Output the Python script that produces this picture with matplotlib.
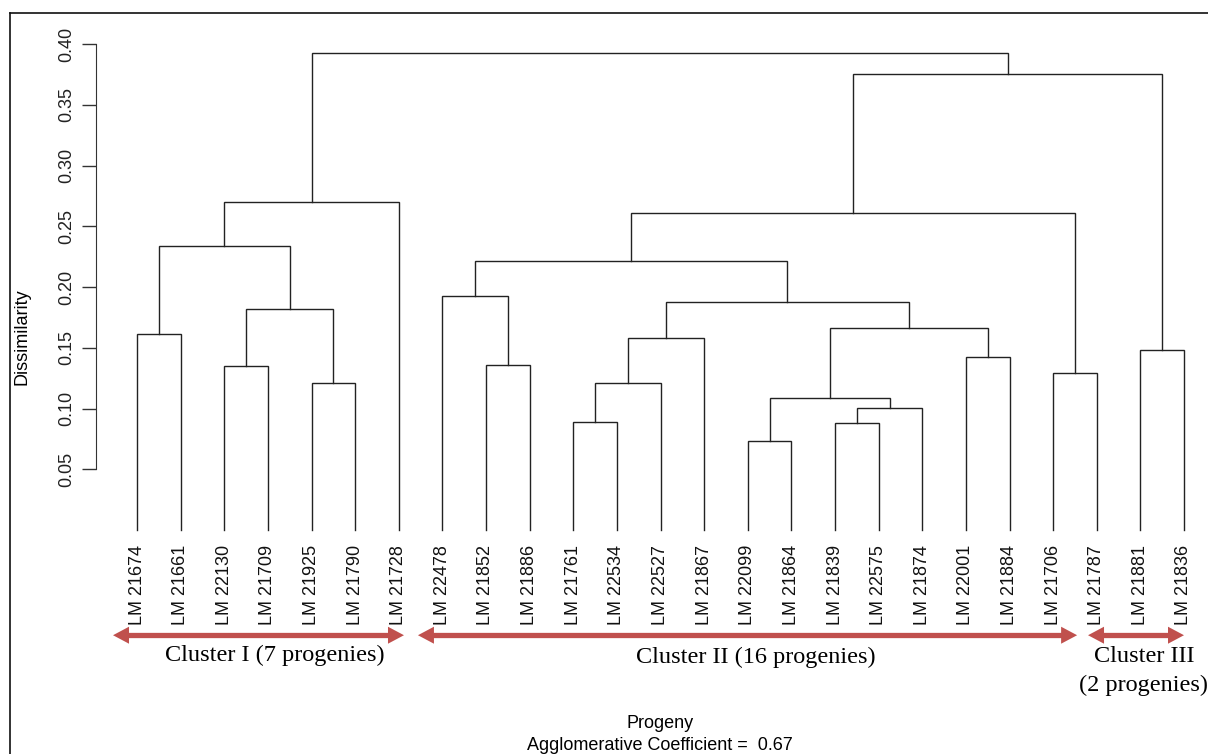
import matplotlib
matplotlib.use('Agg')
import matplotlib.pyplot as plt
from matplotlib.lines import Line2D

leaf_labels = ['LM 21674', 'LM 21661', 'LM 22130', 'LM 21709', 'LM 21925',
               'LM 21790', 'LM 21728', 'LM 22478', 'LM 21852', 'LM 21886',
               'LM 21761', 'LM 22534', 'LM 22527', 'LM 21867', 'LM 22099',
               'LM 21864', 'LM 21839', 'LM 22575', 'LM 21874', 'LM 22001',
               'LM 21884', 'LM 21706', 'LM 21787', 'LM 21881', 'LM 21836']

# R-style merge table: negative = leaf (1-based position), positive = earlier merge row
merge_a = [-15, -17, -11, 2, 1, -5, 3, -22, -3, -9, -20, -24,
           7, -1, 5, 9, 13, -8, 18, 14, 19, 20, 21, 22]
merge_b = [-16, -18, -12, -19, 4, -6, -13, -23, -4, -10, -21, -25,
           -14, -2, 11, 6, 15, 10, 17, 16, 8, -7, 12, 23]
merge_h = [0.073, 0.088, 0.089, 0.1005, 0.109, 0.121, 0.121, 0.1296,
           0.1353, 0.1355, 0.142, 0.148, 0.158, 0.161, 0.1666, 0.182,
           0.1877, 0.1926, 0.221, 0.2335, 0.2607, 0.270, 0.3753, 0.393]

y_ticks = [0.05, 0.10, 0.15, 0.20, 0.25, 0.30, 0.35, 0.40]
cluster_names = ['Cluster I (7 progenies)', 'Cluster II (16 progenies)',
                 'Cluster III', '(2 progenies)']

W, H = 1208, 754
px_x = 43.625          # pixels per leaf step
px_y = 486 / 0.40      # pixels per dissimilarity unit
fig = plt.figure(figsize=(W / 100, H / 100), dpi=100)
ax = fig.add_axes([96 / W, 1 - 530 / H, (W - 96) / W, (530 - 44) / H])
ax.set_xlim(1 - 41 / px_x, 1 + (W - 137) / px_x)
ax.set_ylim(0, 0.40)

lc = '#222222'
merge_x = []


def node(k):
    if k < 0:
        return -k, 0.0
    return merge_x[k - 1], merge_h[k - 1]


for a, b, h in zip(merge_a, merge_b, merge_h):
    xa, ya = node(a)
    xb, yb = node(b)
    ax.plot([xa, xa, xb, xb], [ya, h, h, yb], color=lc, lw=1.0,
            solid_joinstyle='miter', clip_on=False)
    merge_x.append((xa + xb) / 2)

for s in ['top', 'right', 'bottom']:
    ax.spines[s].set_visible(False)
ax.spines['left'].set_bounds(0.05, 0.40)
ax.spines['left'].set_color('#333333')
ax.set_xticks([])
ax.set_yticks(y_ticks)
ax.set_yticklabels(['%.2f' % t for t in y_ticks], fontsize=13,
                   family='Liberation Sans', color='#222222')
ax.tick_params(axis='y', length=10, width=1, color='#333333', pad=5,
               labelrotation=90)
for t in ax.get_yticklabels():
    t.set_va('center')

for i, lab in enumerate(leaf_labels):
    ax.annotate(lab, xy=(i + 1, 0), xytext=(0, -15), textcoords='offset pixels',
                rotation=90, ha='center', va='top', fontsize=13,
                family='Liberation Sans', color='#111111', annotation_clip=False)

# cluster arrows: shaft + filled triangular heads
red = '#C0504D'
spans = [(0.45, 7.12), (7.44, 22.55), (22.8, 25.0)]
ay = -0.0866
hl = 16 / px_x
hw = 8.5 / px_y
for x0, x1 in spans:
    ax.plot([x0 + hl * 0.9, x1 - hl * 0.9], [ay, ay], color=red, lw=3.8,
            solid_capstyle='butt', clip_on=False)
    ax.fill([x0, x0 + hl, x0 + hl], [ay, ay + hw, ay - hw], color=red,
            lw=0, clip_on=False)
    ax.fill([x1, x1 - hl, x1 - hl], [ay, ay + hw, ay - hw], color=red,
            lw=0, clip_on=False)

text_x = [4.17, 15.19, 24.08, 24.08]
text_y = [-0.1029, -0.1045, -0.1045, -0.1276]
for name, tx, ty in zip(cluster_names, text_x, text_y):
    ax.text(tx, ty, name, ha='center', va='center', fontsize=17.5,
            family='Liberation Serif', clip_on=False)

fig.text(22 / W, 1 - 337 / H, 'Dissimilarity', rotation=90, ha='center', va='center',
         fontsize=13, family='Liberation Sans')
fig.text(660 / W, 1 - 723 / H, 'Progeny', ha='center', va='center',
         fontsize=13, family='Liberation Sans')
fig.text(660 / W, 1 - 746 / H, 'Agglomerative Coefficient =  0.67', ha='center',
         va='center', fontsize=13, family='Liberation Sans')

# outer frame of the original plot device
fig.add_artist(Line2D([10 / W, 10 / W], [0, 1 - 13 / H], color='#111111', lw=1.2))
fig.add_artist(Line2D([10 / W, 1], [1 - 13 / H, 1 - 13 / H], color='#111111', lw=1.2))

fig.savefig('out.png', dpi=100)
